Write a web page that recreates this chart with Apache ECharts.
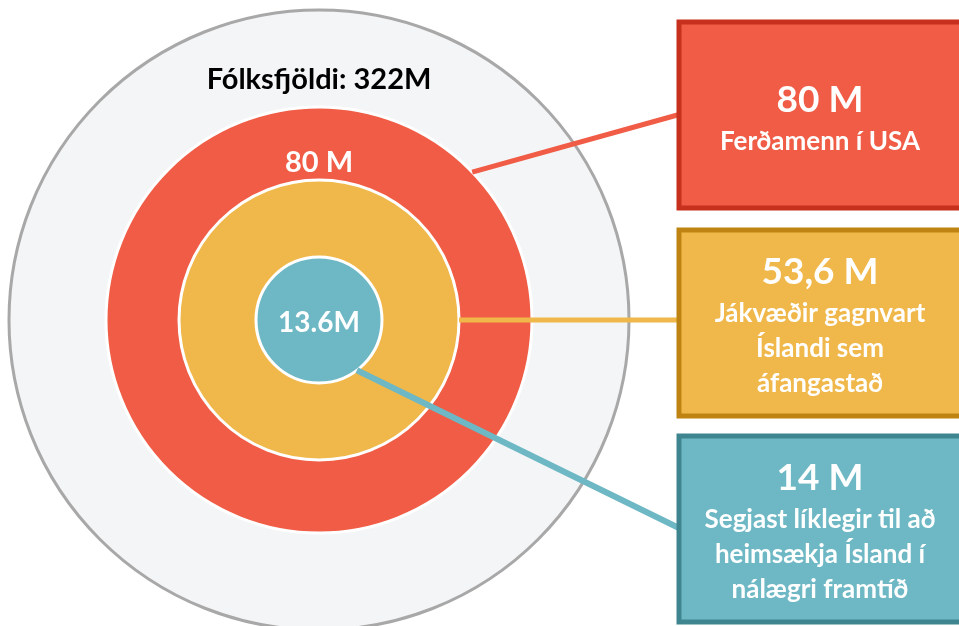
<!DOCTYPE html>
<html>
<head>
<meta charset="utf-8">
<script src="https://cdn.jsdelivr.net/npm/echarts@6/dist/echarts.min.js"></script>
<style>
  html, body { margin: 0; padding: 0; background: #fff; }
  #chart { width: 959px; height: 626px; }
</style>
</head>
<body>
<div id="chart"></div>
<script>
// hringir, utan frá og inn
var ringNames = ["Fólksfjöldi", "Ferðamenn í USA", "Jákvæðir gagnvart Íslandi", "Líklegir til að heimsækja"];
var ringValues = [322, 80, 53.6, 13.6];
var ringLabels = ["Fólksfjöldi: 322M", "80 M", "", "13.6M"];

// kassar til hægri
var boxTitles = ["80 M", "53,6 M", "14 M"];
var boxLines = [
    ["Ferðamenn í USA"],
    ["Jákvæðir gagnvart", "Íslandi sem", "áfangastað"],
    ["Segjast líklegir til að", "heimsækja Ísland í", "nálægri framtíð"]
];

// útlit
var center = [319, 320];
var radii = [310, 213, 140, 63];
var ringColors = ["#f4f5f7", "#f05c45", "#f0b84b", "#6db8c4"];
var ringBorders = ["#a8a8a8", "#ffffff", "#ffffff", "#ffffff"];
var boxColors = ["#f05c45", "#f0b84b", "#6db8c4"];
var boxBorders = ["#c6301c", "#bf8312", "#3e8590"];
var boxTops = [22, 230, 436];
var boxHeight = 186;
var boxLeft = 679;
var boxWidth = 300;
// tengilínur: hringur, horn (gráður), y á kassa
var links = [
    { ring: 1, angle: -44, y: 114, color: "#f05c45", width: 5 },
    { ring: 2, angle: 0, y: 320, color: "#f0b84b", width: 5 },
    { ring: 3, angle: 53, y: 529, color: "#6db8c4", width: 6 }
];
var font = "Lato, 'Open Sans', sans-serif";

var myChart = echarts.init(document.getElementById("chart"));

var series = ringValues.map(function (v, i) {
    return {
        type: "pie",
        center: center,
        radius: [0, radii[i]],
        silent: true,
        z: i,
        label: { show: false },
        labelLine: { show: false },
        itemStyle: {
            color: ringColors[i],
            borderColor: ringBorders[i],
            borderWidth: 3
        },
        data: [{ name: ringNames[i], value: v }]
    };
});

var graphics = [];

// textar í hringjum
graphics.push({
    type: "text", x: center[0], y: 80, z: 100,
    style: { text: ringLabels[0], fill: "#000", font: "bold 29px " + font, align: "center", verticalAlign: "middle" }
});
graphics.push({
    type: "text", x: center[0], y: 163, z: 100,
    style: { text: ringLabels[1], fill: "#fff", font: "bold 29px " + font, align: "center", verticalAlign: "middle" }
});

// tengilínur
links.forEach(function (l) {
    var a = l.angle * Math.PI / 180;
    var r = radii[l.ring];
    graphics.push({
        type: "line", z: 50,
        shape: { x1: center[0] + r * Math.cos(a), y1: center[1] + r * Math.sin(a), x2: boxLeft + 2, y2: l.y },
        style: { stroke: l.color, lineWidth: l.width }
    });
});

// textinn í miðjunni
graphics.push({
    type: "text", x: center[0], y: 323, z: 100,
    style: { text: ringLabels[3], fill: "#fff", font: "bold 28px " + font, align: "center", verticalAlign: "middle" }
});

// kassar
boxTitles.forEach(function (t, i) {
    var top = boxTops[i];
    graphics.push({
        type: "rect", z: 60,
        shape: { x: boxLeft, y: top, width: boxWidth, height: boxHeight },
        style: { fill: boxColors[i], stroke: boxBorders[i], lineWidth: 5 }
    });
    var cx = 820;
    var titleY = i === 0 ? 100 : top + 42;
    graphics.push({
        type: "text", x: cx, y: titleY, z: 70,
        style: { text: t, fill: "#fff", font: "bold 37px " + font, align: "center", verticalAlign: "middle" }
    });
    boxLines[i].forEach(function (s, j) {
        graphics.push({
            type: "text", x: cx, y: (i === 0 ? 142 : top + 84) + j * 35, z: 70,
            style: { text: s, fill: "#fff", font: "bold 26px " + font, align: "center", verticalAlign: "middle" }
        });
    });
});

var option = {
    backgroundColor: "#fff",
    animation: false,
    series: series,
    graphic: graphics
};
myChart.setOption(option);
</script>
</body>
</html>
